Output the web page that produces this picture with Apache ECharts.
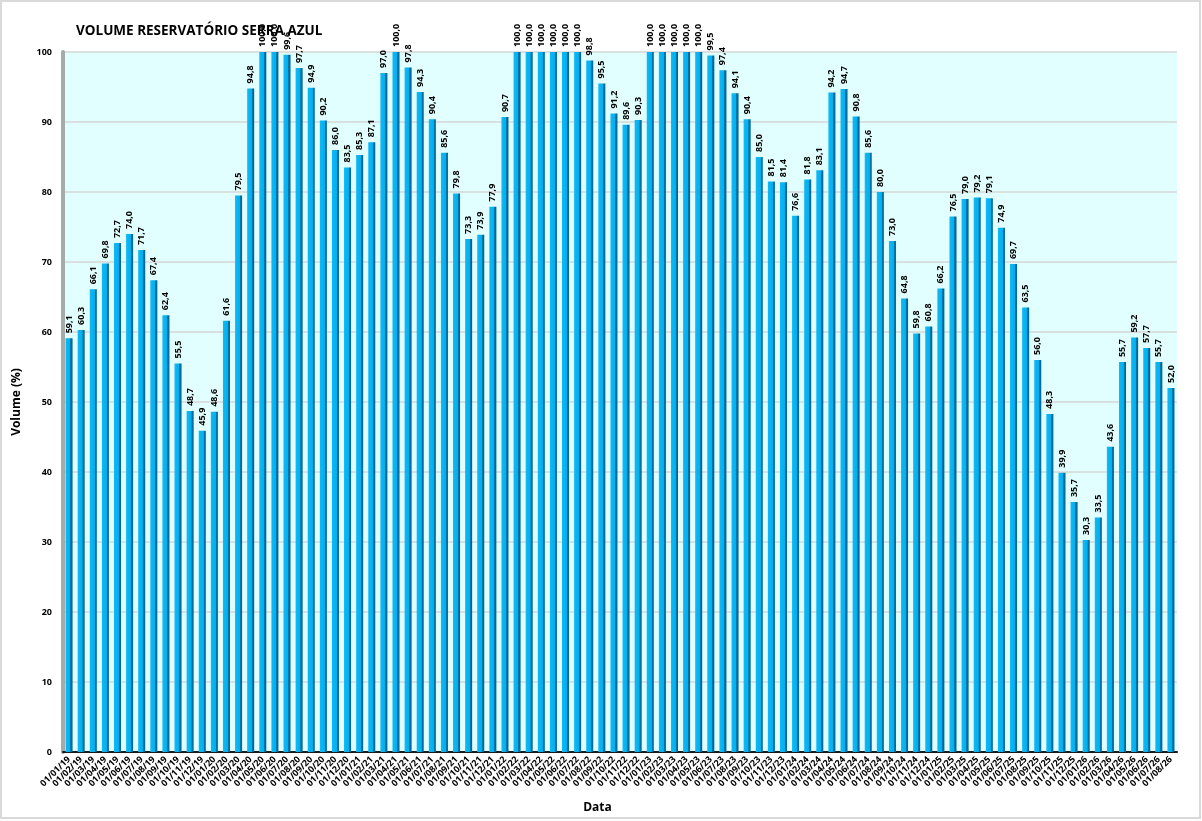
<!DOCTYPE html>
<html>
<head>
<meta charset="utf-8">
<title>Volume Reservatório Serra Azul</title>
<script src="https://cdn.jsdelivr.net/npm/echarts@6/dist/echarts.min.js"></script>
<style>
    html, body { margin: 0; padding: 0; background: #fff; }
    #chart { width: 1202px; height: 821px; }
</style>
</head>
<body>
<div id="chart"></div>
<script>
// volume mensal (%), 01/01/19 ate 01/08/26
var anos = ['19', '20', '21', '22', '23', '24', '25', '26'];
var vol2019 = [59.1, 60.3, 66.1, 69.8, 72.7, 74.0, 71.7, 67.4, 62.4, 55.5, 48.7, 45.9];
var vol2020 = [48.6, 61.6, 79.5, 94.8, 100.0, 100.0, 99.6, 97.7, 94.9, 90.2, 86.0, 83.5];
var vol2021 = [85.3, 87.1, 97.0, 100.0, 97.8, 94.3, 90.4, 85.6, 79.8, 73.3, 73.9, 77.9];
var vol2022 = [90.7, 100.0, 100.0, 100.0, 100.0, 100.0, 100.0, 98.8, 95.5, 91.2, 89.6, 90.3];
var vol2023 = [100.0, 100.0, 100.0, 100.0, 100.0, 99.5, 97.4, 94.1, 90.4, 85.0, 81.5, 81.4];
var vol2024 = [76.6, 81.8, 83.1, 94.2, 94.7, 90.8, 85.6, 80.0, 73.0, 64.8, 59.8, 60.8];
var vol2025 = [66.2, 76.5, 79.0, 79.2, 79.1, 74.9, 69.7, 63.5, 56.0, 48.3, 39.9, 35.7];
var vol2026 = [30.3, 33.5, 43.6, 55.7, 59.2, 57.7, 55.7, 52.0];
var yTicks = [0, 10, 20, 30, 40, 50, 60, 70, 80, 90, 100];

var volumes = [].concat(vol2019, vol2020, vol2021, vol2022, vol2023, vol2024, vol2025, vol2026);

// monta as datas 01/mm/aa
var datas = [];
anos.forEach(function (ano, i) {
    var n = (ano == '26') ? 8 : 12;
    for (var m = 1; m <= n; m++) {
        datas.push('01/' + (m < 10 ? '0' + m : m) + '/' + ano);
    }
});

var chart = echarts.init(document.getElementById('chart'));

var barColor = new echarts.graphic.LinearGradient(0, 0, 1, 0, [
    { offset: 0, color: '#12b8f3' },
    { offset: 0.68, color: '#00aff0' },
    { offset: 0.7, color: '#007aae' },
    { offset: 1, color: '#005f8c' }
]);

var option = {
    backgroundColor: '#ffffff',
    animation: false,
    title: {
        text: 'VOLUME RESERVATÓRIO SERRA AZUL',
        left: 71,
        top: 19,
        textStyle: {
            fontFamily: 'Open Sans',
            fontSize: 13.5,
            fontWeight: 'bold',
            color: '#000'
        }
    },
    graphic: [{
        type: 'rect',
        shape: { x: 1, y: 1, width: 1199, height: 817 },
        style: { fill: 'none', stroke: '#d9d9d9', lineWidth: 2 },
        silent: true
    }],
    grid: {
        left: 63,
        right: 25,
        top: 52,
        bottom: 69,
        show: true,
        backgroundColor: '#e1ffff',
        borderWidth: 0
    },
    xAxis: {
        type: 'category',
        data: datas,
        name: 'Data',
        nameLocation: 'middle',
        nameGap: 50,
        nameTextStyle: {
            fontFamily: 'Open Sans',
            fontSize: 12,
            fontWeight: 'bold',
            color: '#000',
            padding: [0, 45, 0, 0]
        },
        axisLine: { show: true, lineStyle: { color: '#1a1a1a', width: 2 } },
        axisTick: { show: false },
        axisLabel: {
            interval: 0,
            rotate: 45,
            fontFamily: 'Open Sans',
            fontSize: 9,
            fontWeight: 'bold',
            color: '#000',
            margin: 6
        }
    },
    yAxis: {
        type: 'value',
        min: 0,
        max: 100,
        interval: 10,
        name: 'Volume (%)',
        nameLocation: 'middle',
        nameRotate: 90,
        nameGap: 40,
        nameTextStyle: {
            fontFamily: 'Open Sans',
            fontSize: 12,
            fontWeight: 'bold',
            color: '#000'
        },
        axisLine: { show: true, lineStyle: { color: '#a3abab', width: 4 } },
        axisTick: { show: false },
        axisLabel: {
            fontFamily: 'Open Sans',
            fontSize: 9,
            fontWeight: 'bold',
            color: '#000',
            margin: 11,
            formatter: function (v) {
                return yTicks.indexOf(v) > -1 ? String(v) : '';
            }
        },
        splitLine: { show: true, lineStyle: { color: '#d6d6d6', width: 1.5 } }
    },
    series: [{
        name: 'Volume',
        type: 'bar',
        data: volumes,
        barWidth: '58%',
        itemStyle: { color: barColor },
        label: {
            show: true,
            position: 'top',
            rotate: 90,
            align: 'left',
            verticalAlign: 'middle',
            distance: 5,
            fontFamily: 'Open Sans',
            fontSize: 9,
            fontWeight: 'bold',
            color: '#000',
            formatter: function (p) {
                return p.value.toFixed(1).replace('.', ',');
            }
        }
    }]
};

chart.setOption(option);
</script>
</body>
</html>
